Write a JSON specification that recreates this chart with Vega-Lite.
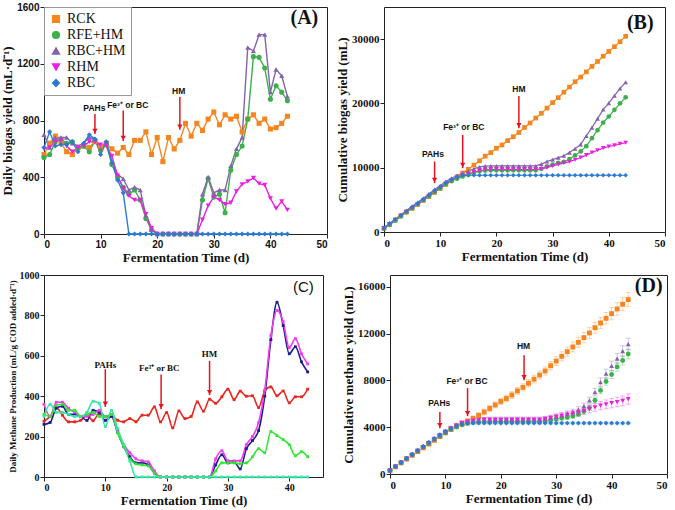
{
"$schema": "https://vega.github.io/schema/vega-lite/v6.json",
"padding": {"left": 1, "top": 1, "right": 1, "bottom": 0},
"background": "white",
"config": {
  "view": {"stroke": "#222", "strokeWidth": 1},
  "axis": {"domain": false, "ticks": true, "tickColor": "#222", "tickSize": 4, "grid": false, "labelColor": "#111", "titleColor": "#111", "labelFont": "Liberation Serif", "labelFontWeight": "bold", "labelFontSize": 11, "titleFont": "Liberation Serif", "titleFontWeight": "bold", "titleFontSize": 13, "labelPadding": 1, "titlePadding": 2}
},
"datasets": {
"daily": [
{"d":0,"s":"RCK","v":560},{"d":1,"s":"RCK","v":640},{"d":2,"s":"RCK","v":690},{"d":3,"s":"RCK","v":640},{"d":4,"s":"RCK","v":580},{"d":5,"s":"RCK","v":560},{"d":6,"s":"RCK","v":610},{"d":7,"s":"RCK","v":620},{"d":8,"s":"RCK","v":610},{"d":9,"s":"RCK","v":650},{"d":10,"s":"RCK","v":610},{"d":11,"s":"RCK","v":640},{"d":12,"s":"RCK","v":600},{"d":13,"s":"RCK","v":570},{"d":14,"s":"RCK","v":610},{"d":15,"s":"RCK","v":560},{"d":16,"s":"RCK","v":660},{"d":17,"s":"RCK","v":660},{"d":18,"s":"RCK","v":720},{"d":19,"s":"RCK","v":560},{"d":20,"s":"RCK","v":680},{"d":21,"s":"RCK","v":510},{"d":22,"s":"RCK","v":680},{"d":23,"s":"RCK","v":600},{"d":24,"s":"RCK","v":660},{"d":25,"s":"RCK","v":780},{"d":26,"s":"RCK","v":690},{"d":27,"s":"RCK","v":780},{"d":28,"s":"RCK","v":730},{"d":29,"s":"RCK","v":810},{"d":30,"s":"RCK","v":860},{"d":31,"s":"RCK","v":770},{"d":32,"s":"RCK","v":840},{"d":33,"s":"RCK","v":810},{"d":34,"s":"RCK","v":830},{"d":35,"s":"RCK","v":720},{"d":36,"s":"RCK","v":810},{"d":37,"s":"RCK","v":840},{"d":38,"s":"RCK","v":780},{"d":39,"s":"RCK","v":810},{"d":40,"s":"RCK","v":740},{"d":41,"s":"RCK","v":750},{"d":42,"s":"RCK","v":780},{"d":43,"s":"RCK","v":830},
{"d":0,"s":"RFE+HM","v":540},{"d":1,"s":"RFE+HM","v":560},{"d":2,"s":"RFE+HM","v":650},{"d":3,"s":"RFE+HM","v":670},{"d":4,"s":"RFE+HM","v":640},{"d":5,"s":"RFE+HM","v":650},{"d":6,"s":"RFE+HM","v":610},{"d":7,"s":"RFE+HM","v":620},{"d":8,"s":"RFE+HM","v":580},{"d":9,"s":"RFE+HM","v":660},{"d":10,"s":"RFE+HM","v":590},{"d":11,"s":"RFE+HM","v":630},{"d":12,"s":"RFE+HM","v":490},{"d":13,"s":"RFE+HM","v":400},{"d":14,"s":"RFE+HM","v":330},{"d":15,"s":"RFE+HM","v":280},{"d":16,"s":"RFE+HM","v":310},{"d":17,"s":"RFE+HM","v":240},{"d":18,"s":"RFE+HM","v":110},{"d":19,"s":"RFE+HM","v":30},{"d":20,"s":"RFE+HM","v":0},{"d":21,"s":"RFE+HM","v":0},{"d":22,"s":"RFE+HM","v":0},{"d":23,"s":"RFE+HM","v":0},{"d":24,"s":"RFE+HM","v":0},{"d":25,"s":"RFE+HM","v":0},{"d":26,"s":"RFE+HM","v":0},{"d":27,"s":"RFE+HM","v":0},{"d":28,"s":"RFE+HM","v":240},{"d":29,"s":"RFE+HM","v":390},{"d":30,"s":"RFE+HM","v":260},{"d":31,"s":"RFE+HM","v":280},{"d":32,"s":"RFE+HM","v":150},{"d":33,"s":"RFE+HM","v":450},{"d":34,"s":"RFE+HM","v":560},{"d":35,"s":"RFE+HM","v":620},{"d":36,"s":"RFE+HM","v":810},{"d":37,"s":"RFE+HM","v":1250},{"d":38,"s":"RFE+HM","v":1245},{"d":39,"s":"RFE+HM","v":1170},{"d":40,"s":"RFE+HM","v":950},{"d":41,"s":"RFE+HM","v":1045},{"d":42,"s":"RFE+HM","v":1000},{"d":43,"s":"RFE+HM","v":940},
{"d":0,"s":"RBC+HM","v":700},{"d":1,"s":"RBC+HM","v":610},{"d":2,"s":"RBC+HM","v":680},{"d":3,"s":"RBC+HM","v":680},{"d":4,"s":"RBC+HM","v":680},{"d":5,"s":"RBC+HM","v":640},{"d":6,"s":"RBC+HM","v":620},{"d":7,"s":"RBC+HM","v":640},{"d":8,"s":"RBC+HM","v":680},{"d":9,"s":"RBC+HM","v":670},{"d":10,"s":"RBC+HM","v":600},{"d":11,"s":"RBC+HM","v":650},{"d":12,"s":"RBC+HM","v":510},{"d":13,"s":"RBC+HM","v":420},{"d":14,"s":"RBC+HM","v":390},{"d":15,"s":"RBC+HM","v":310},{"d":16,"s":"RBC+HM","v":330},{"d":17,"s":"RBC+HM","v":310},{"d":18,"s":"RBC+HM","v":130},{"d":19,"s":"RBC+HM","v":30},{"d":20,"s":"RBC+HM","v":0},{"d":21,"s":"RBC+HM","v":0},{"d":22,"s":"RBC+HM","v":0},{"d":23,"s":"RBC+HM","v":0},{"d":24,"s":"RBC+HM","v":0},{"d":25,"s":"RBC+HM","v":0},{"d":26,"s":"RBC+HM","v":0},{"d":27,"s":"RBC+HM","v":0},{"d":28,"s":"RBC+HM","v":280},{"d":29,"s":"RBC+HM","v":400},{"d":30,"s":"RBC+HM","v":290},{"d":31,"s":"RBC+HM","v":310},{"d":32,"s":"RBC+HM","v":310},{"d":33,"s":"RBC+HM","v":480},{"d":34,"s":"RBC+HM","v":600},{"d":35,"s":"RBC+HM","v":680},{"d":36,"s":"RBC+HM","v":1315},{"d":37,"s":"RBC+HM","v":1290},{"d":38,"s":"RBC+HM","v":1405},{"d":39,"s":"RBC+HM","v":1405},{"d":40,"s":"RBC+HM","v":1000},{"d":41,"s":"RBC+HM","v":1160},{"d":42,"s":"RBC+HM","v":1115},{"d":43,"s":"RBC+HM","v":970},
{"d":0,"s":"RHM","v":600},{"d":1,"s":"RHM","v":610},{"d":2,"s":"RHM","v":650},{"d":3,"s":"RHM","v":660},{"d":4,"s":"RHM","v":620},{"d":5,"s":"RHM","v":580},{"d":6,"s":"RHM","v":610},{"d":7,"s":"RHM","v":620},{"d":8,"s":"RHM","v":650},{"d":9,"s":"RHM","v":650},{"d":10,"s":"RHM","v":630},{"d":11,"s":"RHM","v":620},{"d":12,"s":"RHM","v":550},{"d":13,"s":"RHM","v":410},{"d":14,"s":"RHM","v":320},{"d":15,"s":"RHM","v":270},{"d":16,"s":"RHM","v":240},{"d":17,"s":"RHM","v":240},{"d":18,"s":"RHM","v":140},{"d":19,"s":"RHM","v":40},{"d":20,"s":"RHM","v":0},{"d":21,"s":"RHM","v":0},{"d":22,"s":"RHM","v":0},{"d":23,"s":"RHM","v":0},{"d":24,"s":"RHM","v":0},{"d":25,"s":"RHM","v":0},{"d":26,"s":"RHM","v":0},{"d":27,"s":"RHM","v":0},{"d":28,"s":"RHM","v":100},{"d":29,"s":"RHM","v":200},{"d":30,"s":"RHM","v":260},{"d":31,"s":"RHM","v":240},{"d":32,"s":"RHM","v":210},{"d":33,"s":"RHM","v":220},{"d":34,"s":"RHM","v":300},{"d":35,"s":"RHM","v":350},{"d":36,"s":"RHM","v":370},{"d":37,"s":"RHM","v":395},{"d":38,"s":"RHM","v":355},{"d":39,"s":"RHM","v":345},{"d":40,"s":"RHM","v":250},{"d":41,"s":"RHM","v":180},{"d":42,"s":"RHM","v":230},{"d":43,"s":"RHM","v":170},
{"d":0,"s":"RBC","v":610},{"d":1,"s":"RBC","v":720},{"d":2,"s":"RBC","v":620},{"d":3,"s":"RBC","v":630},{"d":4,"s":"RBC","v":630},{"d":5,"s":"RBC","v":650},{"d":6,"s":"RBC","v":580},{"d":7,"s":"RBC","v":640},{"d":8,"s":"RBC","v":700},{"d":9,"s":"RBC","v":670},{"d":10,"s":"RBC","v":560},{"d":11,"s":"RBC","v":650},{"d":12,"s":"RBC","v":500},{"d":13,"s":"RBC","v":380},{"d":14,"s":"RBC","v":290},{"d":15,"s":"RBC","v":0},{"d":16,"s":"RBC","v":0},{"d":17,"s":"RBC","v":0},{"d":18,"s":"RBC","v":0},{"d":19,"s":"RBC","v":0},{"d":20,"s":"RBC","v":0},{"d":21,"s":"RBC","v":0},{"d":22,"s":"RBC","v":0},{"d":23,"s":"RBC","v":0},{"d":24,"s":"RBC","v":0},{"d":25,"s":"RBC","v":0},{"d":26,"s":"RBC","v":0},{"d":27,"s":"RBC","v":0},{"d":28,"s":"RBC","v":0},{"d":29,"s":"RBC","v":0},{"d":30,"s":"RBC","v":0},{"d":31,"s":"RBC","v":0},{"d":32,"s":"RBC","v":0},{"d":33,"s":"RBC","v":0},{"d":34,"s":"RBC","v":0},{"d":35,"s":"RBC","v":0},{"d":36,"s":"RBC","v":0},{"d":37,"s":"RBC","v":0},{"d":38,"s":"RBC","v":0},{"d":39,"s":"RBC","v":0},{"d":40,"s":"RBC","v":0},{"d":41,"s":"RBC","v":0},{"d":42,"s":"RBC","v":0},{"d":43,"s":"RBC","v":0}
],
"cum": [
{"d":0,"s":"RCK","v":560},{"d":1,"s":"RCK","v":1200},{"d":2,"s":"RCK","v":1890},{"d":3,"s":"RCK","v":2530},{"d":4,"s":"RCK","v":3110},{"d":5,"s":"RCK","v":3670},{"d":6,"s":"RCK","v":4280},{"d":7,"s":"RCK","v":4900},{"d":8,"s":"RCK","v":5510},{"d":9,"s":"RCK","v":6160},{"d":10,"s":"RCK","v":6770},{"d":11,"s":"RCK","v":7410},{"d":12,"s":"RCK","v":8010},{"d":13,"s":"RCK","v":8580},{"d":14,"s":"RCK","v":9190},{"d":15,"s":"RCK","v":9750},{"d":16,"s":"RCK","v":10410},{"d":17,"s":"RCK","v":11070},{"d":18,"s":"RCK","v":11790},{"d":19,"s":"RCK","v":12350},{"d":20,"s":"RCK","v":13030},{"d":21,"s":"RCK","v":13540},{"d":22,"s":"RCK","v":14220},{"d":23,"s":"RCK","v":14820},{"d":24,"s":"RCK","v":15480},{"d":25,"s":"RCK","v":16260},{"d":26,"s":"RCK","v":16950},{"d":27,"s":"RCK","v":17730},{"d":28,"s":"RCK","v":18460},{"d":29,"s":"RCK","v":19270},{"d":30,"s":"RCK","v":20130},{"d":31,"s":"RCK","v":20900},{"d":32,"s":"RCK","v":21740},{"d":33,"s":"RCK","v":22550},{"d":34,"s":"RCK","v":23380},{"d":35,"s":"RCK","v":24100},{"d":36,"s":"RCK","v":24910},{"d":37,"s":"RCK","v":25750},{"d":38,"s":"RCK","v":26530},{"d":39,"s":"RCK","v":27340},{"d":40,"s":"RCK","v":28080},{"d":41,"s":"RCK","v":28830},{"d":42,"s":"RCK","v":29610},{"d":43,"s":"RCK","v":30440},
{"d":0,"s":"RFE+HM","v":540},{"d":1,"s":"RFE+HM","v":1100},{"d":2,"s":"RFE+HM","v":1750},{"d":3,"s":"RFE+HM","v":2420},{"d":4,"s":"RFE+HM","v":3060},{"d":5,"s":"RFE+HM","v":3710},{"d":6,"s":"RFE+HM","v":4320},{"d":7,"s":"RFE+HM","v":4940},{"d":8,"s":"RFE+HM","v":5520},{"d":9,"s":"RFE+HM","v":6180},{"d":10,"s":"RFE+HM","v":6770},{"d":11,"s":"RFE+HM","v":7400},{"d":12,"s":"RFE+HM","v":7890},{"d":13,"s":"RFE+HM","v":8290},{"d":14,"s":"RFE+HM","v":8620},{"d":15,"s":"RFE+HM","v":8900},{"d":16,"s":"RFE+HM","v":9210},{"d":17,"s":"RFE+HM","v":9450},{"d":18,"s":"RFE+HM","v":9560},{"d":19,"s":"RFE+HM","v":9590},{"d":20,"s":"RFE+HM","v":9590},{"d":21,"s":"RFE+HM","v":9590},{"d":22,"s":"RFE+HM","v":9590},{"d":23,"s":"RFE+HM","v":9590},{"d":24,"s":"RFE+HM","v":9590},{"d":25,"s":"RFE+HM","v":9590},{"d":26,"s":"RFE+HM","v":9590},{"d":27,"s":"RFE+HM","v":9590},{"d":28,"s":"RFE+HM","v":9830},{"d":29,"s":"RFE+HM","v":10220},{"d":30,"s":"RFE+HM","v":10480},{"d":31,"s":"RFE+HM","v":10760},{"d":32,"s":"RFE+HM","v":10910},{"d":33,"s":"RFE+HM","v":11360},{"d":34,"s":"RFE+HM","v":11920},{"d":35,"s":"RFE+HM","v":12540},{"d":36,"s":"RFE+HM","v":13350},{"d":37,"s":"RFE+HM","v":14600},{"d":38,"s":"RFE+HM","v":15845},{"d":39,"s":"RFE+HM","v":17015},{"d":40,"s":"RFE+HM","v":17965},{"d":41,"s":"RFE+HM","v":19010},{"d":42,"s":"RFE+HM","v":20010},{"d":43,"s":"RFE+HM","v":20950},
{"d":0,"s":"RBC+HM","v":700},{"d":1,"s":"RBC+HM","v":1310},{"d":2,"s":"RBC+HM","v":1990},{"d":3,"s":"RBC+HM","v":2670},{"d":4,"s":"RBC+HM","v":3350},{"d":5,"s":"RBC+HM","v":3990},{"d":6,"s":"RBC+HM","v":4610},{"d":7,"s":"RBC+HM","v":5250},{"d":8,"s":"RBC+HM","v":5930},{"d":9,"s":"RBC+HM","v":6600},{"d":10,"s":"RBC+HM","v":7200},{"d":11,"s":"RBC+HM","v":7850},{"d":12,"s":"RBC+HM","v":8360},{"d":13,"s":"RBC+HM","v":8780},{"d":14,"s":"RBC+HM","v":9170},{"d":15,"s":"RBC+HM","v":9480},{"d":16,"s":"RBC+HM","v":9810},{"d":17,"s":"RBC+HM","v":10120},{"d":18,"s":"RBC+HM","v":10250},{"d":19,"s":"RBC+HM","v":10280},{"d":20,"s":"RBC+HM","v":10280},{"d":21,"s":"RBC+HM","v":10280},{"d":22,"s":"RBC+HM","v":10280},{"d":23,"s":"RBC+HM","v":10280},{"d":24,"s":"RBC+HM","v":10280},{"d":25,"s":"RBC+HM","v":10280},{"d":26,"s":"RBC+HM","v":10280},{"d":27,"s":"RBC+HM","v":10280},{"d":28,"s":"RBC+HM","v":10560},{"d":29,"s":"RBC+HM","v":10960},{"d":30,"s":"RBC+HM","v":11250},{"d":31,"s":"RBC+HM","v":11560},{"d":32,"s":"RBC+HM","v":11870},{"d":33,"s":"RBC+HM","v":12350},{"d":34,"s":"RBC+HM","v":12950},{"d":35,"s":"RBC+HM","v":13630},{"d":36,"s":"RBC+HM","v":14945},{"d":37,"s":"RBC+HM","v":16235},{"d":38,"s":"RBC+HM","v":17640},{"d":39,"s":"RBC+HM","v":19045},{"d":40,"s":"RBC+HM","v":20045},{"d":41,"s":"RBC+HM","v":21205},{"d":42,"s":"RBC+HM","v":22320},{"d":43,"s":"RBC+HM","v":23290},
{"d":0,"s":"RHM","v":600},{"d":1,"s":"RHM","v":1210},{"d":2,"s":"RHM","v":1860},{"d":3,"s":"RHM","v":2520},{"d":4,"s":"RHM","v":3140},{"d":5,"s":"RHM","v":3720},{"d":6,"s":"RHM","v":4330},{"d":7,"s":"RHM","v":4950},{"d":8,"s":"RHM","v":5600},{"d":9,"s":"RHM","v":6250},{"d":10,"s":"RHM","v":6880},{"d":11,"s":"RHM","v":7500},{"d":12,"s":"RHM","v":8050},{"d":13,"s":"RHM","v":8460},{"d":14,"s":"RHM","v":8780},{"d":15,"s":"RHM","v":9050},{"d":16,"s":"RHM","v":9290},{"d":17,"s":"RHM","v":9530},{"d":18,"s":"RHM","v":9670},{"d":19,"s":"RHM","v":9710},{"d":20,"s":"RHM","v":9710},{"d":21,"s":"RHM","v":9710},{"d":22,"s":"RHM","v":9710},{"d":23,"s":"RHM","v":9710},{"d":24,"s":"RHM","v":9710},{"d":25,"s":"RHM","v":9710},{"d":26,"s":"RHM","v":9710},{"d":27,"s":"RHM","v":9710},{"d":28,"s":"RHM","v":9810},{"d":29,"s":"RHM","v":10010},{"d":30,"s":"RHM","v":10270},{"d":31,"s":"RHM","v":10510},{"d":32,"s":"RHM","v":10720},{"d":33,"s":"RHM","v":10940},{"d":34,"s":"RHM","v":11240},{"d":35,"s":"RHM","v":11590},{"d":36,"s":"RHM","v":11960},{"d":37,"s":"RHM","v":12355},{"d":38,"s":"RHM","v":12710},{"d":39,"s":"RHM","v":13055},{"d":40,"s":"RHM","v":13305},{"d":41,"s":"RHM","v":13485},{"d":42,"s":"RHM","v":13715},{"d":43,"s":"RHM","v":13885},
{"d":0,"s":"RBC","v":610},{"d":1,"s":"RBC","v":1330},{"d":2,"s":"RBC","v":1950},{"d":3,"s":"RBC","v":2580},{"d":4,"s":"RBC","v":3210},{"d":5,"s":"RBC","v":3860},{"d":6,"s":"RBC","v":4440},{"d":7,"s":"RBC","v":5080},{"d":8,"s":"RBC","v":5780},{"d":9,"s":"RBC","v":6450},{"d":10,"s":"RBC","v":7010},{"d":11,"s":"RBC","v":7660},{"d":12,"s":"RBC","v":8160},{"d":13,"s":"RBC","v":8540},{"d":14,"s":"RBC","v":8830},{"d":15,"s":"RBC","v":8830},{"d":16,"s":"RBC","v":8830},{"d":17,"s":"RBC","v":8830},{"d":18,"s":"RBC","v":8830},{"d":19,"s":"RBC","v":8830},{"d":20,"s":"RBC","v":8830},{"d":21,"s":"RBC","v":8830},{"d":22,"s":"RBC","v":8830},{"d":23,"s":"RBC","v":8830},{"d":24,"s":"RBC","v":8830},{"d":25,"s":"RBC","v":8830},{"d":26,"s":"RBC","v":8830},{"d":27,"s":"RBC","v":8830},{"d":28,"s":"RBC","v":8830},{"d":29,"s":"RBC","v":8830},{"d":30,"s":"RBC","v":8830},{"d":31,"s":"RBC","v":8830},{"d":32,"s":"RBC","v":8830},{"d":33,"s":"RBC","v":8830},{"d":34,"s":"RBC","v":8830},{"d":35,"s":"RBC","v":8830},{"d":36,"s":"RBC","v":8830},{"d":37,"s":"RBC","v":8830},{"d":38,"s":"RBC","v":8830},{"d":39,"s":"RBC","v":8830},{"d":40,"s":"RBC","v":8830},{"d":41,"s":"RBC","v":8830},{"d":42,"s":"RBC","v":8830},{"d":43,"s":"RBC","v":8830}
],
"meth": [
{"d":0,"c":"CK","v":276},{"d":1,"c":"CK","v":300},{"d":2,"c":"CK","v":344},{"d":3,"c":"CK","v":306},{"d":4,"c":"CK","v":273},{"d":5,"c":"CK","v":273},{"d":6,"c":"CK","v":281},{"d":7,"c":"CK","v":306},{"d":8,"c":"CK","v":278},{"d":9,"c":"CK","v":314},{"d":10,"c":"CK","v":298},{"d":11,"c":"CK","v":302},{"d":12,"c":"CK","v":281},{"d":13,"c":"CK","v":273},{"d":14,"c":"CK","v":289},{"d":15,"c":"CK","v":273},{"d":16,"c":"CK","v":306},{"d":17,"c":"CK","v":306},{"d":18,"c":"CK","v":347},{"d":19,"c":"CK","v":273},{"d":20,"c":"CK","v":319},{"d":21,"c":"CK","v":243},{"d":22,"c":"CK","v":327},{"d":23,"c":"CK","v":289},{"d":24,"c":"CK","v":300},{"d":25,"c":"CK","v":372},{"d":26,"c":"CK","v":326},{"d":27,"c":"CK","v":385},{"d":28,"c":"CK","v":365},{"d":29,"c":"CK","v":397},{"d":30,"c":"CK","v":435},{"d":31,"c":"CK","v":383},{"d":32,"c":"CK","v":425},{"d":33,"c":"CK","v":400},{"d":34,"c":"CK","v":402},{"d":35,"c":"CK","v":344},{"d":36,"c":"CK","v":426},{"d":37,"c":"CK","v":446},{"d":38,"c":"CK","v":402},{"d":39,"c":"CK","v":426},{"d":40,"c":"CK","v":367},{"d":41,"c":"CK","v":397},{"d":42,"c":"CK","v":397},{"d":43,"c":"CK","v":435},
{"d":0,"c":"BC+HM","v":260},{"d":1,"c":"BC+HM","v":270},{"d":2,"c":"BC+HM","v":340},{"d":3,"c":"BC+HM","v":350},{"d":4,"c":"BC+HM","v":310},{"d":5,"c":"BC+HM","v":310},{"d":6,"c":"BC+HM","v":300},{"d":7,"c":"BC+HM","v":280},{"d":8,"c":"BC+HM","v":330},{"d":9,"c":"BC+HM","v":320},{"d":10,"c":"BC+HM","v":280},{"d":11,"c":"BC+HM","v":300},{"d":12,"c":"BC+HM","v":220},{"d":13,"c":"BC+HM","v":150},{"d":14,"c":"BC+HM","v":100},{"d":15,"c":"BC+HM","v":70},{"d":16,"c":"BC+HM","v":70},{"d":17,"c":"BC+HM","v":60},{"d":18,"c":"BC+HM","v":20},{"d":19,"c":"BC+HM","v":0},{"d":20,"c":"BC+HM","v":0},{"d":21,"c":"BC+HM","v":0},{"d":22,"c":"BC+HM","v":0},{"d":23,"c":"BC+HM","v":0},{"d":24,"c":"BC+HM","v":0},{"d":25,"c":"BC+HM","v":0},{"d":26,"c":"BC+HM","v":0},{"d":27,"c":"BC+HM","v":0},{"d":28,"c":"BC+HM","v":60},{"d":29,"c":"BC+HM","v":110},{"d":30,"c":"BC+HM","v":70},{"d":31,"c":"BC+HM","v":75},{"d":32,"c":"BC+HM","v":40},{"d":33,"c":"BC+HM","v":140},{"d":34,"c":"BC+HM","v":180},{"d":35,"c":"BC+HM","v":230},{"d":36,"c":"BC+HM","v":400},{"d":37,"c":"BC+HM","v":680},{"d":38,"c":"BC+HM","v":865},{"d":39,"c":"BC+HM","v":750},{"d":40,"c":"BC+HM","v":610},{"d":41,"c":"BC+HM","v":645},{"d":42,"c":"BC+HM","v":570},{"d":43,"c":"BC+HM","v":520},
{"d":0,"c":"HM","v":360},{"d":1,"c":"HM","v":300},{"d":2,"c":"HM","v":370},{"d":3,"c":"HM","v":370},{"d":4,"c":"HM","v":340},{"d":5,"c":"HM","v":320},{"d":6,"c":"HM","v":300},{"d":7,"c":"HM","v":300},{"d":8,"c":"HM","v":310},{"d":9,"c":"HM","v":330},{"d":10,"c":"HM","v":300},{"d":11,"c":"HM","v":310},{"d":12,"c":"HM","v":230},{"d":13,"c":"HM","v":160},{"d":14,"c":"HM","v":120},{"d":15,"c":"HM","v":90},{"d":16,"c":"HM","v":80},{"d":17,"c":"HM","v":75},{"d":18,"c":"HM","v":30},{"d":19,"c":"HM","v":0},{"d":20,"c":"HM","v":0},{"d":21,"c":"HM","v":0},{"d":22,"c":"HM","v":0},{"d":23,"c":"HM","v":0},{"d":24,"c":"HM","v":0},{"d":25,"c":"HM","v":0},{"d":26,"c":"HM","v":0},{"d":27,"c":"HM","v":0},{"d":28,"c":"HM","v":90},{"d":29,"c":"HM","v":130},{"d":30,"c":"HM","v":80},{"d":31,"c":"HM","v":80},{"d":32,"c":"HM","v":80},{"d":33,"c":"HM","v":160},{"d":34,"c":"HM","v":200},{"d":35,"c":"HM","v":270},{"d":36,"c":"HM","v":430},{"d":37,"c":"HM","v":700},{"d":38,"c":"HM","v":825},{"d":39,"c":"HM","v":770},{"d":40,"c":"HM","v":640},{"d":41,"c":"HM","v":685},{"d":42,"c":"HM","v":610},{"d":43,"c":"HM","v":560},
{"d":0,"c":"FE+HM","v":310},{"d":1,"c":"FE+HM","v":300},{"d":2,"c":"FE+HM","v":355},{"d":3,"c":"FE+HM","v":360},{"d":4,"c":"FE+HM","v":330},{"d":5,"c":"FE+HM","v":330},{"d":6,"c":"FE+HM","v":300},{"d":7,"c":"FE+HM","v":310},{"d":8,"c":"FE+HM","v":320},{"d":9,"c":"FE+HM","v":300},{"d":10,"c":"FE+HM","v":300},{"d":11,"c":"FE+HM","v":310},{"d":12,"c":"FE+HM","v":220},{"d":13,"c":"FE+HM","v":150},{"d":14,"c":"FE+HM","v":90},{"d":15,"c":"FE+HM","v":65},{"d":16,"c":"FE+HM","v":60},{"d":17,"c":"FE+HM","v":55},{"d":18,"c":"FE+HM","v":20},{"d":19,"c":"FE+HM","v":0},{"d":20,"c":"FE+HM","v":0},{"d":21,"c":"FE+HM","v":0},{"d":22,"c":"FE+HM","v":0},{"d":23,"c":"FE+HM","v":0},{"d":24,"c":"FE+HM","v":0},{"d":25,"c":"FE+HM","v":0},{"d":26,"c":"FE+HM","v":0},{"d":27,"c":"FE+HM","v":0},{"d":28,"c":"FE+HM","v":30},{"d":29,"c":"FE+HM","v":70},{"d":30,"c":"FE+HM","v":70},{"d":31,"c":"FE+HM","v":70},{"d":32,"c":"FE+HM","v":65},{"d":33,"c":"FE+HM","v":70},{"d":34,"c":"FE+HM","v":100},{"d":35,"c":"FE+HM","v":140},{"d":36,"c":"FE+HM","v":120},{"d":37,"c":"FE+HM","v":225},{"d":38,"c":"FE+HM","v":205},{"d":39,"c":"FE+HM","v":185},{"d":40,"c":"FE+HM","v":160},{"d":41,"c":"FE+HM","v":105},{"d":42,"c":"FE+HM","v":125},{"d":43,"c":"FE+HM","v":100},
{"d":0,"c":"BC","v":300},{"d":1,"c":"BC","v":360},{"d":2,"c":"BC","v":320},{"d":3,"c":"BC","v":320},{"d":4,"c":"BC","v":310},{"d":5,"c":"BC","v":300},{"d":6,"c":"BC","v":300},{"d":7,"c":"BC","v":320},{"d":8,"c":"BC","v":375},{"d":9,"c":"BC","v":365},{"d":10,"c":"BC","v":250},{"d":11,"c":"BC","v":330},{"d":12,"c":"BC","v":240},{"d":13,"c":"BC","v":160},{"d":14,"c":"BC","v":80},{"d":15,"c":"BC","v":0},{"d":16,"c":"BC","v":0},{"d":17,"c":"BC","v":0},{"d":18,"c":"BC","v":0},{"d":19,"c":"BC","v":0},{"d":20,"c":"BC","v":0},{"d":21,"c":"BC","v":0},{"d":22,"c":"BC","v":0},{"d":23,"c":"BC","v":0},{"d":24,"c":"BC","v":0},{"d":25,"c":"BC","v":0},{"d":26,"c":"BC","v":0},{"d":27,"c":"BC","v":0},{"d":28,"c":"BC","v":0},{"d":29,"c":"BC","v":0},{"d":30,"c":"BC","v":0},{"d":31,"c":"BC","v":0},{"d":32,"c":"BC","v":0},{"d":33,"c":"BC","v":0},{"d":34,"c":"BC","v":0},{"d":35,"c":"BC","v":0},{"d":36,"c":"BC","v":0},{"d":37,"c":"BC","v":0},{"d":38,"c":"BC","v":0},{"d":39,"c":"BC","v":0},{"d":40,"c":"BC","v":0},{"d":41,"c":"BC","v":0},{"d":42,"c":"BC","v":0},{"d":43,"c":"BC","v":0}
],
"cmeth": [
{"d":0,"s":"RCK","v":300,"e":40},{"d":1,"s":"RCK","v":620,"e":60},{"d":2,"s":"RCK","v":950,"e":80},{"d":3,"s":"RCK","v":1280,"e":100},{"d":4,"s":"RCK","v":1600,"e":110},{"d":5,"s":"RCK","v":1920,"e":120},{"d":6,"s":"RCK","v":2240,"e":130},{"d":7,"s":"RCK","v":2560,"e":140},{"d":8,"s":"RCK","v":2880,"e":150},{"d":9,"s":"RCK","v":3200,"e":160},{"d":10,"s":"RCK","v":3520,"e":170},{"d":11,"s":"RCK","v":3820,"e":180},{"d":12,"s":"RCK","v":4100,"e":190},{"d":13,"s":"RCK","v":4330,"e":200},{"d":14,"s":"RCK","v":4500,"e":210},{"d":15,"s":"RCK","v":4740,"e":220},{"d":16,"s":"RCK","v":5000,"e":230},{"d":17,"s":"RCK","v":5300,"e":240},{"d":18,"s":"RCK","v":5600,"e":250},{"d":19,"s":"RCK","v":5900,"e":260},{"d":20,"s":"RCK","v":6200,"e":270},{"d":21,"s":"RCK","v":6450,"e":280},{"d":22,"s":"RCK","v":6750,"e":290},{"d":23,"s":"RCK","v":7100,"e":300},{"d":24,"s":"RCK","v":7400,"e":310},{"d":25,"s":"RCK","v":7750,"e":320},{"d":26,"s":"RCK","v":8100,"e":330},{"d":27,"s":"RCK","v":8450,"e":340},{"d":28,"s":"RCK","v":8800,"e":350},{"d":29,"s":"RCK","v":9250,"e":360},{"d":30,"s":"RCK","v":9650,"e":380},{"d":31,"s":"RCK","v":10050,"e":390},{"d":32,"s":"RCK","v":10450,"e":400},{"d":33,"s":"RCK","v":10850,"e":420},{"d":34,"s":"RCK","v":11250,"e":430},{"d":35,"s":"RCK","v":11650,"e":440},{"d":36,"s":"RCK","v":12050,"e":460},{"d":37,"s":"RCK","v":12500,"e":470},{"d":38,"s":"RCK","v":12900,"e":480},{"d":39,"s":"RCK","v":13300,"e":500},{"d":40,"s":"RCK","v":13700,"e":520},{"d":41,"s":"RCK","v":14100,"e":540},{"d":42,"s":"RCK","v":14500,"e":560},{"d":43,"s":"RCK","v":14900,"e":600},
{"d":0,"s":"RFE+HM","v":300,"e":15},{"d":1,"s":"RFE+HM","v":630,"e":25},{"d":2,"s":"RFE+HM","v":970,"e":40},{"d":3,"s":"RFE+HM","v":1300,"e":50},{"d":4,"s":"RFE+HM","v":1630,"e":65},{"d":5,"s":"RFE+HM","v":1960,"e":80},{"d":6,"s":"RFE+HM","v":2280,"e":90},{"d":7,"s":"RFE+HM","v":2600,"e":100},{"d":8,"s":"RFE+HM","v":2920,"e":115},{"d":9,"s":"RFE+HM","v":3230,"e":130},{"d":10,"s":"RFE+HM","v":3530,"e":140},{"d":11,"s":"RFE+HM","v":3800,"e":150},{"d":12,"s":"RFE+HM","v":4020,"e":160},{"d":13,"s":"RFE+HM","v":4200,"e":170},{"d":14,"s":"RFE+HM","v":4330,"e":170},{"d":15,"s":"RFE+HM","v":4420,"e":180},{"d":16,"s":"RFE+HM","v":4460,"e":180},{"d":17,"s":"RFE+HM","v":4480,"e":180},{"d":18,"s":"RFE+HM","v":4490,"e":180},{"d":19,"s":"RFE+HM","v":4500,"e":180},{"d":20,"s":"RFE+HM","v":4500,"e":180},{"d":21,"s":"RFE+HM","v":4500,"e":180},{"d":22,"s":"RFE+HM","v":4500,"e":180},{"d":23,"s":"RFE+HM","v":4500,"e":180},{"d":24,"s":"RFE+HM","v":4500,"e":180},{"d":25,"s":"RFE+HM","v":4500,"e":180},{"d":26,"s":"RFE+HM","v":4500,"e":180},{"d":27,"s":"RFE+HM","v":4500,"e":180},{"d":28,"s":"RFE+HM","v":4550,"e":180},{"d":29,"s":"RFE+HM","v":4620,"e":185},{"d":30,"s":"RFE+HM","v":4700,"e":190},{"d":31,"s":"RFE+HM","v":4780,"e":190},{"d":32,"s":"RFE+HM","v":4850,"e":195},{"d":33,"s":"RFE+HM","v":4950,"e":200},{"d":34,"s":"RFE+HM","v":5100,"e":205},{"d":35,"s":"RFE+HM","v":5350,"e":215},{"d":36,"s":"RFE+HM","v":5650,"e":225},{"d":37,"s":"RFE+HM","v":6290,"e":250},{"d":38,"s":"RFE+HM","v":7140,"e":285},{"d":39,"s":"RFE+HM","v":7900,"e":315},{"d":40,"s":"RFE+HM","v":8500,"e":340},{"d":41,"s":"RFE+HM","v":9150,"e":365},{"d":42,"s":"RFE+HM","v":9700,"e":390},{"d":43,"s":"RFE+HM","v":10250,"e":410},
{"d":0,"s":"RBC+HM","v":320,"e":15},{"d":1,"s":"RBC+HM","v":650,"e":30},{"d":2,"s":"RBC+HM","v":990,"e":45},{"d":3,"s":"RBC+HM","v":1330,"e":60},{"d":4,"s":"RBC+HM","v":1670,"e":75},{"d":5,"s":"RBC+HM","v":2010,"e":90},{"d":6,"s":"RBC+HM","v":2340,"e":105},{"d":7,"s":"RBC+HM","v":2670,"e":120},{"d":8,"s":"RBC+HM","v":3000,"e":135},{"d":9,"s":"RBC+HM","v":3320,"e":150},{"d":10,"s":"RBC+HM","v":3630,"e":165},{"d":11,"s":"RBC+HM","v":3910,"e":175},{"d":12,"s":"RBC+HM","v":4150,"e":185},{"d":13,"s":"RBC+HM","v":4350,"e":195},{"d":14,"s":"RBC+HM","v":4480,"e":200},{"d":15,"s":"RBC+HM","v":4560,"e":205},{"d":16,"s":"RBC+HM","v":4610,"e":205},{"d":17,"s":"RBC+HM","v":4630,"e":210},{"d":18,"s":"RBC+HM","v":4640,"e":210},{"d":19,"s":"RBC+HM","v":4650,"e":210},{"d":20,"s":"RBC+HM","v":4650,"e":210},{"d":21,"s":"RBC+HM","v":4650,"e":210},{"d":22,"s":"RBC+HM","v":4650,"e":210},{"d":23,"s":"RBC+HM","v":4650,"e":210},{"d":24,"s":"RBC+HM","v":4650,"e":210},{"d":25,"s":"RBC+HM","v":4650,"e":210},{"d":26,"s":"RBC+HM","v":4650,"e":210},{"d":27,"s":"RBC+HM","v":4650,"e":210},{"d":28,"s":"RBC+HM","v":4700,"e":210},{"d":29,"s":"RBC+HM","v":4800,"e":215},{"d":30,"s":"RBC+HM","v":4900,"e":220},{"d":31,"s":"RBC+HM","v":5000,"e":225},{"d":32,"s":"RBC+HM","v":5150,"e":230},{"d":33,"s":"RBC+HM","v":5300,"e":240},{"d":34,"s":"RBC+HM","v":5500,"e":250},{"d":35,"s":"RBC+HM","v":5800,"e":260},{"d":36,"s":"RBC+HM","v":6280,"e":280},{"d":37,"s":"RBC+HM","v":7000,"e":315},{"d":38,"s":"RBC+HM","v":7850,"e":355},{"d":39,"s":"RBC+HM","v":8570,"e":385},{"d":40,"s":"RBC+HM","v":9230,"e":415},{"d":41,"s":"RBC+HM","v":9860,"e":445},{"d":42,"s":"RBC+HM","v":10490,"e":470},{"d":43,"s":"RBC+HM","v":11100,"e":500},
{"d":0,"s":"RHM","v":310,"e":15},{"d":1,"s":"RHM","v":640,"e":30},{"d":2,"s":"RHM","v":980,"e":45},{"d":3,"s":"RHM","v":1310,"e":60},{"d":4,"s":"RHM","v":1640,"e":75},{"d":5,"s":"RHM","v":1970,"e":90},{"d":6,"s":"RHM","v":2300,"e":105},{"d":7,"s":"RHM","v":2630,"e":120},{"d":8,"s":"RHM","v":2950,"e":135},{"d":9,"s":"RHM","v":3270,"e":150},{"d":10,"s":"RHM","v":3580,"e":165},{"d":11,"s":"RHM","v":3870,"e":180},{"d":12,"s":"RHM","v":4120,"e":190},{"d":13,"s":"RHM","v":4330,"e":200},{"d":14,"s":"RHM","v":4470,"e":205},{"d":15,"s":"RHM","v":4560,"e":210},{"d":16,"s":"RHM","v":4600,"e":210},{"d":17,"s":"RHM","v":4620,"e":210},{"d":18,"s":"RHM","v":4630,"e":210},{"d":19,"s":"RHM","v":4630,"e":210},{"d":20,"s":"RHM","v":4630,"e":210},{"d":21,"s":"RHM","v":4630,"e":210},{"d":22,"s":"RHM","v":4630,"e":210},{"d":23,"s":"RHM","v":4630,"e":210},{"d":24,"s":"RHM","v":4630,"e":210},{"d":25,"s":"RHM","v":4630,"e":210},{"d":26,"s":"RHM","v":4630,"e":210},{"d":27,"s":"RHM","v":4630,"e":210},{"d":28,"s":"RHM","v":4680,"e":220},{"d":29,"s":"RHM","v":4780,"e":230},{"d":30,"s":"RHM","v":4880,"e":240},{"d":31,"s":"RHM","v":4970,"e":250},{"d":32,"s":"RHM","v":5050,"e":260},{"d":33,"s":"RHM","v":5150,"e":270},{"d":34,"s":"RHM","v":5250,"e":280},{"d":35,"s":"RHM","v":5400,"e":300},{"d":36,"s":"RHM","v":5550,"e":320},{"d":37,"s":"RHM","v":5700,"e":340},{"d":38,"s":"RHM","v":5850,"e":360},{"d":39,"s":"RHM","v":5950,"e":380},{"d":40,"s":"RHM","v":6050,"e":400},{"d":41,"s":"RHM","v":6150,"e":410},{"d":42,"s":"RHM","v":6250,"e":420},{"d":43,"s":"RHM","v":6400,"e":440},
{"d":0,"s":"RBC","v":330,"e":10},{"d":1,"s":"RBC","v":670,"e":15},{"d":2,"s":"RBC","v":1010,"e":20},{"d":3,"s":"RBC","v":1350,"e":25},{"d":4,"s":"RBC","v":1690,"e":30},{"d":5,"s":"RBC","v":2030,"e":40},{"d":6,"s":"RBC","v":2370,"e":45},{"d":7,"s":"RBC","v":2710,"e":50},{"d":8,"s":"RBC","v":3040,"e":55},{"d":9,"s":"RBC","v":3350,"e":60},{"d":10,"s":"RBC","v":3640,"e":65},{"d":11,"s":"RBC","v":3910,"e":70},{"d":12,"s":"RBC","v":4130,"e":75},{"d":13,"s":"RBC","v":4280,"e":80},{"d":14,"s":"RBC","v":4340,"e":80},{"d":15,"s":"RBC","v":4350,"e":80},{"d":16,"s":"RBC","v":4350,"e":80},{"d":17,"s":"RBC","v":4350,"e":80},{"d":18,"s":"RBC","v":4350,"e":80},{"d":19,"s":"RBC","v":4350,"e":80},{"d":20,"s":"RBC","v":4350,"e":80},{"d":21,"s":"RBC","v":4350,"e":80},{"d":22,"s":"RBC","v":4350,"e":80},{"d":23,"s":"RBC","v":4350,"e":80},{"d":24,"s":"RBC","v":4350,"e":80},{"d":25,"s":"RBC","v":4350,"e":80},{"d":26,"s":"RBC","v":4350,"e":80},{"d":27,"s":"RBC","v":4350,"e":80},{"d":28,"s":"RBC","v":4350,"e":80},{"d":29,"s":"RBC","v":4350,"e":80},{"d":30,"s":"RBC","v":4350,"e":80},{"d":31,"s":"RBC","v":4350,"e":80},{"d":32,"s":"RBC","v":4350,"e":80},{"d":33,"s":"RBC","v":4350,"e":80},{"d":34,"s":"RBC","v":4350,"e":80},{"d":35,"s":"RBC","v":4350,"e":80},{"d":36,"s":"RBC","v":4350,"e":80},{"d":37,"s":"RBC","v":4350,"e":80},{"d":38,"s":"RBC","v":4350,"e":80},{"d":39,"s":"RBC","v":4350,"e":80},{"d":40,"s":"RBC","v":4350,"e":80},{"d":41,"s":"RBC","v":4350,"e":80},{"d":42,"s":"RBC","v":4350,"e":80},{"d":43,"s":"RBC","v":4350,"e":80}
],
"ann": [
{"p":"A","d":9,"v":705,"v2":845},{"p":"A","d":14,"v":655,"v2":870},{"p":"A","d":24,"v":735,"v2":965},
{"p":"B","d":9,"v":7600,"v2":10960},{"p":"B","d":14,"v":9930,"v2":15100},{"p":"B","d":24,"v":16130,"v2":21150},
{"p":"C","d":10,"v":347,"v2":534},{"p":"C","d":19.1,"v":335,"v2":507},{"p":"C","d":27,"v":405,"v2":575},
{"p":"D","d":9,"v":3910,"v2":5290},{"p":"D","d":14,"v":4940,"v2":7340},{"p":"D","d":24.2,"v":8000,"v2":10140}
],
"txt": [
{"p":"A","d":8.9,"v":885,"t":"PAHs"},{"p":"A","d":14.8,"v":908,"t":"Fe³⁺ or BC"},{"p":"A","d":23.8,"v":1006,"t":"HM"},
{"p":"B","d":8.7,"v":12150,"t":"PAHs"},{"p":"B","d":14.2,"v":16290,"t":"Fe³⁺ or BC"},{"p":"B","d":24,"v":22180,"t":"HM"},
{"p":"C","d":10,"v":554,"t":"PAHs"},{"p":"C","d":18.8,"v":540,"t":"Fe³⁺ or BC"},{"p":"C","d":27,"v":608,"t":"HM"},
{"p":"D","d":8.9,"v":6057,"t":"PAHs"},{"p":"D","d":13.9,"v":7910,"t":"Fe³⁺ or BC"},{"p":"D","d":24.1,"v":10910,"t":"HM"}
],
"lab": [
{"p":"A","d":46,"v":1522,"t":"(A)"},{"p":"B","d":45.6,"v":32520,"t":"(B)"},{"p":"C","d":42.3,"v":942,"t":"(C)"},{"p":"D","d":46.7,"v":16090,"t":"(D)"}
]
},
"resolve": {"scale": {"color": "independent", "shape": "independent"}},
"spacing": 4,
"vconcat": [
{"hconcat": [
 {"width": 283, "height": 227,
  "layer": [
   {"data": {"name": "daily"}, "mark": {"type": "line", "strokeWidth": 1.4},
    "encoding": {
     "x": {"field": "d", "type": "quantitative", "title": "Fermentation Time (d)", "scale": {"domain": [0, 50], "nice": false}, "axis": {"values": [0,5,10,15,20,25,30,35,40,45,50], "format": "d", "labelFont": "Liberation Sans", "labelFontSize": 10}},
     "y": {"field": "v", "type": "quantitative", "title": "Daily biogas yield (mL·d⁻¹)", "scale": {"domain": [0, 1600], "nice": false}, "axis": {"values": [0,200,400,600,800,1000,1200,1400,1600], "format": "d", "labelFont": "Liberation Sans", "labelFontSize": 10}},
     "color": {"field": "s", "type": "nominal", "scale": {"domain": ["RCK","RFE+HM","RBC+HM","RHM","RBC"], "range": ["#f5861f","#3cb04a","#8462ad","#ec1ee4","#2a7bd4"]},
       "legend": {"title": null, "orient": "top-left", "offset": 0, "padding": 5, "strokeColor": "#999", "fillColor": "white", "labelFont": "Liberation Serif", "labelFontSize": 14, "labelColor": "#111", "symbolSize": 45, "rowPadding": 2}}
    }},
   {"data": {"name": "daily"}, "mark": {"type": "point", "filled": true, "size": 26, "opacity": 1},
    "encoding": {
     "x": {"field": "d", "type": "quantitative"},
     "y": {"field": "v", "type": "quantitative"},
     "color": {"field": "s", "type": "nominal", "scale": {"domain": ["RCK","RFE+HM","RBC+HM","RHM","RBC"], "range": ["#f5861f","#3cb04a","#8462ad","#ec1ee4","#2a7bd4"]},
       "legend": {"title": null, "orient": "top-left", "offset": 0, "padding": 5, "strokeColor": "#999", "fillColor": "white", "labelFont": "Liberation Serif", "labelFontSize": 14, "labelColor": "#111", "symbolSize": 45, "rowPadding": 2}},
     "shape": {"field": "s", "type": "nominal", "scale": {"domain": ["RCK","RFE+HM","RBC+HM","RHM","RBC"], "range": ["square","circle","triangle-up","triangle-down","diamond"]},
       "legend": {"title": null, "orient": "top-left", "offset": 0, "padding": 5, "strokeColor": "#999", "fillColor": "white", "labelFont": "Liberation Serif", "labelFontSize": 14, "labelColor": "#111", "symbolSize": 45, "rowPadding": 2}}
    }},
   {"data": {"name": "ann"}, "transform": [{"filter": "datum.p === 'A'"}], "mark": {"type": "rule", "color": "#e8121e", "strokeWidth": 1.5},
    "encoding": {"x": {"field": "d", "type": "quantitative"}, "y": {"field": "v", "type": "quantitative"}, "y2": {"field": "v2"}}},
   {"data": {"name": "ann"}, "transform": [{"filter": "datum.p === 'A'"}], "mark": {"type": "point", "shape": "triangle-down", "filled": true, "color": "#e8121e", "size": 28, "opacity": 1, "yOffset": -3},
    "encoding": {"x": {"field": "d", "type": "quantitative"}, "y": {"field": "v", "type": "quantitative"}}},
   {"data": {"name": "txt"}, "transform": [{"filter": "datum.p === 'A'"}], "mark": {"type": "text", "font": "Liberation Sans", "fontWeight": "bold", "fontSize": 8.5, "color": "#111"},
    "encoding": {"x": {"field": "d", "type": "quantitative"}, "y": {"field": "v", "type": "quantitative"}, "text": {"field": "t"}}},
   {"data": {"name": "lab"}, "transform": [{"filter": "datum.p === 'A'"}], "mark": {"type": "text", "font": "Liberation Serif", "fontWeight": "bold", "fontSize": 20, "color": "#111"},
    "encoding": {"x": {"field": "d", "type": "quantitative"}, "y": {"field": "v", "type": "quantitative"}, "text": {"field": "t"}}}
  ]},
 {"width": 281, "height": 225,
  "layer": [
   {"data": {"name": "cum"}, "mark": {"type": "line", "strokeWidth": 1.2},
    "encoding": {
     "x": {"field": "d", "type": "quantitative", "title": "Fermentation Time (d)", "scale": {"domain": [0, 50], "nice": false}, "axis": {"values": [0,5,10,15,20,25,30,35,40,45,50], "format": "d"}},
     "y": {"field": "v", "type": "quantitative", "title": "Cumulative biogas yield (mL)", "scale": {"domain": [0, 35000], "nice": false}, "axis": {"values": [0,5000,10000,15000,20000,25000,30000,35000], "format": "d"}},
     "color": {"field": "s", "type": "nominal", "scale": {"domain": ["RCK","RFE+HM","RBC+HM","RHM","RBC"], "range": ["#f5861f","#3cb04a","#8462ad","#ec1ee4","#2a7bd4"]}, "legend": null}
    }},
   {"data": {"name": "cum"}, "mark": {"type": "point", "filled": true, "size": 22, "opacity": 1},
    "encoding": {
     "x": {"field": "d", "type": "quantitative"},
     "y": {"field": "v", "type": "quantitative"},
     "color": {"field": "s", "type": "nominal", "legend": null},
     "shape": {"field": "s", "type": "nominal", "scale": {"domain": ["RCK","RFE+HM","RBC+HM","RHM","RBC"], "range": ["square","circle","triangle-up","triangle-down","diamond"]}, "legend": null}
    }},
   {"data": {"name": "ann"}, "transform": [{"filter": "datum.p === 'B'"}], "mark": {"type": "rule", "color": "#e8121e", "strokeWidth": 1.5},
    "encoding": {"x": {"field": "d", "type": "quantitative"}, "y": {"field": "v", "type": "quantitative"}, "y2": {"field": "v2"}}},
   {"data": {"name": "ann"}, "transform": [{"filter": "datum.p === 'B'"}], "mark": {"type": "point", "shape": "triangle-down", "filled": true, "color": "#e8121e", "size": 28, "opacity": 1, "yOffset": -3},
    "encoding": {"x": {"field": "d", "type": "quantitative"}, "y": {"field": "v", "type": "quantitative"}}},
   {"data": {"name": "txt"}, "transform": [{"filter": "datum.p === 'B'"}], "mark": {"type": "text", "font": "Liberation Sans", "fontWeight": "bold", "fontSize": 8.5, "color": "#111"},
    "encoding": {"x": {"field": "d", "type": "quantitative"}, "y": {"field": "v", "type": "quantitative"}, "text": {"field": "t"}}},
   {"data": {"name": "lab"}, "transform": [{"filter": "datum.p === 'B'"}], "mark": {"type": "text", "font": "Liberation Serif", "fontWeight": "bold", "fontSize": 20, "color": "#111"},
    "encoding": {"x": {"field": "d", "type": "quantitative"}, "y": {"field": "v", "type": "quantitative"}, "text": {"field": "t"}}}
  ]}
 ],
 "spacing": 8,
 "resolve": {"scale": {"color": "independent", "shape": "independent"}}
},
{"hconcat": [
 {"width": 279, "height": 202,
  "layer": [
   {"data": {"name": "meth"}, "mark": {"type": "line", "strokeWidth": 1.6, "interpolate": "monotone"},
    "encoding": {
     "x": {"field": "d", "type": "quantitative", "title": "Fermentation Time (d)", "scale": {"domain": [0, 45.5], "nice": false}, "axis": {"values": [0,5,10,15,20,25,30,35,40,45], "format": "d", "labelFontSize": 10}},
     "y": {"field": "v", "type": "quantitative", "title": "Daily Methane Production  (mL/g COD added·d⁻¹)", "scale": {"domain": [0, 1000], "nice": false}, "axis": {"values": [0,200,400,600,800,1000], "format": "d", "labelFontSize": 10, "titleFontSize": 9}},
     "color": {"field": "c", "type": "nominal", "scale": {"domain": ["CK","FE+HM","BC","HM","BC+HM"], "range": ["#e8261f","#33e633","#36e6a6","#f23cf2","#1e1e8e"]}, "legend": null}
    }},
   {"data": {"name": "meth"}, "mark": {"type": "point", "filled": true, "size": 8, "opacity": 1, "shape": "square"},
    "encoding": {
     "x": {"field": "d", "type": "quantitative"},
     "y": {"field": "v", "type": "quantitative"},
     "color": {"field": "c", "type": "nominal", "legend": null}
    }},
   {"data": {"name": "ann"}, "transform": [{"filter": "datum.p === 'C'"}], "mark": {"type": "rule", "color": "#e8121e", "strokeWidth": 1.5},
    "encoding": {"x": {"field": "d", "type": "quantitative"}, "y": {"field": "v", "type": "quantitative"}, "y2": {"field": "v2"}}},
   {"data": {"name": "ann"}, "transform": [{"filter": "datum.p === 'C'"}], "mark": {"type": "point", "shape": "triangle-down", "filled": true, "color": "#e8121e", "size": 28, "opacity": 1, "yOffset": -3},
    "encoding": {"x": {"field": "d", "type": "quantitative"}, "y": {"field": "v", "type": "quantitative"}}},
   {"data": {"name": "txt"}, "transform": [{"filter": "datum.p === 'C'"}], "mark": {"type": "text", "font": "Liberation Serif", "fontWeight": "bold", "fontSize": 9, "color": "#111"},
    "encoding": {"x": {"field": "d", "type": "quantitative"}, "y": {"field": "v", "type": "quantitative"}, "text": {"field": "t"}}},
   {"data": {"name": "lab"}, "transform": [{"filter": "datum.p === 'C'"}], "mark": {"type": "text", "font": "Liberation Sans", "fontSize": 15, "color": "#111"},
    "encoding": {"x": {"field": "d", "type": "quantitative"}, "y": {"field": "v", "type": "quantitative"}, "text": {"field": "t"}}}
  ]},
 {"width": 277, "height": 199,
  "layer": [
   {"data": {"name": "cmeth"}, "mark": {"type": "errorbar", "ticks": true, "opacity": 0.35, "thickness": 1},
    "encoding": {
     "x": {"field": "d", "type": "quantitative", "title": "Fermentation Time (d)", "scale": {"domain": [0, 50], "nice": false}, "axis": {"values": [0,5,10,15,20,25,30,35,40,45,50], "format": "d"}},
     "y": {"field": "v", "type": "quantitative", "title": "Cumulative methane yield (mL)", "scale": {"domain": [0, 17000], "nice": false}, "axis": {"values": [0,2000,4000,6000,8000,10000,12000,14000,16000], "format": "d"}},
     "yError": {"field": "e"},
     "color": {"field": "s", "type": "nominal", "scale": {"domain": ["RCK","RFE+HM","RBC+HM","RHM","RBC"], "range": ["#f5861f","#3cb04a","#8462ad","#ec1ee4","#2a7bd4"]}, "legend": null}
    }},
   {"data": {"name": "cmeth"}, "mark": {"type": "point", "filled": true, "size": 24, "opacity": 1},
    "encoding": {
     "x": {"field": "d", "type": "quantitative"},
     "y": {"field": "v", "type": "quantitative"},
     "color": {"field": "s", "type": "nominal", "legend": null},
     "shape": {"field": "s", "type": "nominal", "scale": {"domain": ["RCK","RFE+HM","RBC+HM","RHM","RBC"], "range": ["square","circle","triangle-up","triangle-down","diamond"]}, "legend": null}
    }},
   {"data": {"name": "ann"}, "transform": [{"filter": "datum.p === 'D'"}], "mark": {"type": "rule", "color": "#e8121e", "strokeWidth": 1.5},
    "encoding": {"x": {"field": "d", "type": "quantitative"}, "y": {"field": "v", "type": "quantitative"}, "y2": {"field": "v2"}}},
   {"data": {"name": "ann"}, "transform": [{"filter": "datum.p === 'D'"}], "mark": {"type": "point", "shape": "triangle-down", "filled": true, "color": "#e8121e", "size": 28, "opacity": 1, "yOffset": -3},
    "encoding": {"x": {"field": "d", "type": "quantitative"}, "y": {"field": "v", "type": "quantitative"}}},
   {"data": {"name": "txt"}, "transform": [{"filter": "datum.p === 'D'"}], "mark": {"type": "text", "font": "Liberation Sans", "fontWeight": "bold", "fontSize": 8.5, "color": "#111"},
    "encoding": {"x": {"field": "d", "type": "quantitative"}, "y": {"field": "v", "type": "quantitative"}, "text": {"field": "t"}}},
   {"data": {"name": "lab"}, "transform": [{"filter": "datum.p === 'D'"}], "mark": {"type": "text", "font": "Liberation Serif", "fontWeight": "bold", "fontSize": 20, "color": "#111"},
    "encoding": {"x": {"field": "d", "type": "quantitative"}, "y": {"field": "v", "type": "quantitative"}, "text": {"field": "t"}}}
  ]}
 ],
 "spacing": 18,
 "resolve": {"scale": {"color": "independent", "shape": "independent"}}
}
]
}
